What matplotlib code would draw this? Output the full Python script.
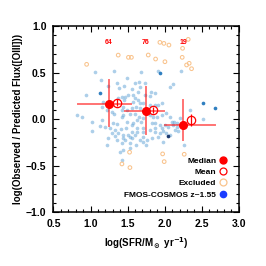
import matplotlib
matplotlib.use("Agg")
import matplotlib.pyplot as plt
from matplotlib.lines import Line2D
from matplotlib.ticker import MultipleLocator

plt.rcParams['font.family'] = ['Liberation Sans', 'DejaVu Sans']
plt.rcParams['font.weight'] = 'bold'

# ---- data ----
blue_x = [1.059, 1.315, 1.686, 1.908, 2.225, 1.140, 0.945, 1.239, 1.352, 1.389,
          1.450, 1.487, 1.598, 1.659, 1.733, 1.666, 1.554, 1.508, 1.643, 1.733,
          1.419, 1.464, 1.810, 1.868, 1.801, 2.070, 2.117, 1.575, 1.373, 1.457,
          1.575, 1.598, 1.643, 1.171, 1.150, 1.217, 1.487, 1.554, 1.666, 1.666,
          1.710, 1.801, 1.868, 1.912, 1.958, 1.433, 1.612, 1.292, 1.315, 1.419,
          1.441, 0.813, 0.888, 1.419, 1.531, 1.598, 1.654, 1.756, 1.801, 1.845,
          1.891, 1.958, 2.016, 1.710, 2.340, 2.521, 2.070, 2.124, 2.160, 2.205,
          1.015, 1.150, 1.127, 1.194, 1.019, 1.306, 1.356, 1.261, 1.329, 1.410,
          1.477, 1.487, 1.554, 1.621, 1.675, 1.575, 1.554, 1.621, 1.823, 1.868,
          1.868, 1.935, 2.003, 2.093, 2.115, 1.958, 2.047, 2.160, 1.710, 1.801,
          1.868, 1.935, 2.070, 1.239, 1.329, 1.284, 1.373, 1.441, 1.508, 1.531,
          1.598, 1.621, 1.710, 1.980, 2.016, 2.137, 2.182, 1.352, 1.464, 1.554,
          1.666, 1.710, 1.756, 1.823, 1.912, 1.433, 1.419, 1.531, 1.612, 1.710,
          1.221, 1.396, 1.441, 1.531, 1.419, 1.980, 2.259, 1.743]
blue_y = [0.510, 0.520, 0.512, 0.517, 0.519, 0.421, 0.260, 0.359, 0.385, 0.332,
          0.356, 0.439, 0.385, 0.402, 0.392, 0.349, 0.321, 0.260, 0.295, 0.260,
          0.241, 0.241, 0.295, 0.278, 0.249, 0.349, 0.374, 0.260, 0.224, 0.206,
          0.188, 0.224, 0.206, 0.188, 0.128, 0.099, 0.099, 0.122, 0.171, 0.117,
          0.171, 0.152, 0.152, 0.152, 0.171, 0.134, 0.134, 0.080, 0.053, 0.099,
          0.045, 0.050, 0.027, 0.027, 0.056, 0.056, 0.024, 0.063, 0.045, 0.020,
          0.027, 0.045, 0.063, 0.010, 0.099, 0.002, 0.020, -0.027, -0.044, 0.010,
          -0.030, -0.009, -0.078, -0.080, -0.130, -0.046, -0.057, -0.098, -0.116, -0.105,
          -0.098, -0.027, -0.062, -0.009, -0.027, -0.044, -0.134, -0.098, -0.044, -0.044,
          -0.098, -0.062, -0.062, -0.027, -0.062, -0.098, -0.080, -0.080, -0.098, -0.116,
          -0.134, -0.145, -0.170, -0.205, -0.180, -0.151, -0.151, -0.170, -0.170, -0.188,
          -0.170, -0.134, -0.134, -0.127, -0.151, -0.116, -0.123, -0.223, -0.223, -0.205,
          -0.223, -0.188, -0.223, -0.205, -0.188, -0.205, -0.259, -0.259, -0.277, -0.241,
          -0.280, -0.349, -0.330, -0.312, -0.438, -0.241, -0.277, -0.274]

blue_dark_x = [1.935, 1.133, 2.519, 2.677]
blue_dark_y = [0.501, 0.278, 0.179, 0.120]
navy_x = [2.047]
navy_y = [-0.180]

excl_x = [1.373, 1.511, 1.551, 0.947, 1.778, 1.935, 1.989, 2.057, 2.317, 2.241,
          1.877, 2.003, 2.236, 2.295, 2.330, 2.362, 1.526, 1.423, 1.531, 1.972,
          1.993, 2.263]
excl_y = [0.688, 0.664, 0.664, 0.589, 0.689, 0.825, 0.814, 0.796, 0.857, 0.761,
          0.646, 0.617, 0.664, 0.582, 0.600, 0.542, -0.355, -0.481, -0.520, -0.373,
          -0.456, -0.377]

med_x = [1.248, 1.747, 2.249]
med_y = [0.160, 0.088, -0.062]
med_xlo = [0.826, 1.464, 1.998]
med_xhi = [1.544, 1.993, 2.672]
med_ylo = [-0.073, -0.159, -0.223]
med_yhi = [0.421, 0.345, 0.206]

mean_x = [1.352, 1.846, 2.353]
mean_y = [0.177, 0.099, -0.009]
mean_yerr = [0.035, 0.035, 0.065]

counts = ["64", "76", "19"]
count_y = 0.82

xticks = [0.5, 1.0, 1.5, 2.0, 2.5, 3.0]
yticks = [-1.0, -0.5, 0.0, 0.5, 1.0]

# ---- plot ----
fig = plt.figure(figsize=(2.66, 2.66), dpi=100)
ax = fig.add_axes([0.201, 0.202, 0.697, 0.700])

red = '#ff0000'
orange = '#f9c38c'

ax.scatter(blue_x, blue_y, s=7, color='#6aa8d8', alpha=0.55, linewidths=0, zorder=2)
ax.scatter(blue_dark_x, blue_dark_y, s=7, color='#2f7fc0', linewidths=0, zorder=2)
ax.scatter(navy_x, navy_y, s=7, color='#1b3a70', linewidths=0, zorder=2)
ax.scatter(excl_x, excl_y, s=7, facecolors='none', edgecolors=orange, linewidths=0.75, zorder=2)

for i in range(len(med_x)):
    ax.plot([med_xlo[i], med_xhi[i]], [med_y[i], med_y[i]], color=red, alpha=0.55, lw=1.4, zorder=3)
    ax.plot([med_x[i], med_x[i]], [med_ylo[i], med_yhi[i]], color=red, alpha=0.55, lw=1.4, zorder=3)
ax.plot(med_x, med_y, 'o', color=red, ms=5.5, mec=red, zorder=4, linestyle='none')

ax.errorbar(mean_x, mean_y, yerr=mean_yerr, fmt='o', mfc='none', mec=red, ecolor=red,
            ms=6, mew=0.9, elinewidth=0.9, capsize=0, zorder=4)

for x, c in zip(med_x, counts):
    ax.text(x, count_y, c, color=red, fontsize=5, fontweight='bold', ha='center', va='center')

ax.set_xlim(0.5, 3.0)
ax.set_ylim(-1.0, 1.0)
ax.set_xticks(xticks)
ax.set_yticks(yticks)
ax.xaxis.set_minor_locator(MultipleLocator(0.1))
ax.yaxis.set_minor_locator(MultipleLocator(0.1))
ax.tick_params(which='both', direction='in', top=True, right=True, width=0.8, labelsize=7.5)
ax.tick_params(which='major', length=4, pad=5)
ax.tick_params(which='minor', length=2)
for lab in ax.get_xticklabels() + ax.get_yticklabels():
    lab.set_fontweight('bold')
for sp in ax.spines.values():
    sp.set_linewidth(1.1)

ax.set_xlabel(r'log(SFR/M$_\odot$ yr$^{-1}$)', fontsize=7, fontweight='bold', labelpad=4)
ax.set_ylabel('log(Observed / Predicted Flux([OIII]))', fontsize=7, fontweight='bold', labelpad=2)

handles = [
    Line2D([], [], marker='o', color=red, ls='none', ms=5),
    Line2D([], [], marker='o', mfc='none', mec=red, ls='none', ms=5, mew=0.9),
    Line2D([], [], marker='o', mfc='none', mec=orange, ls='none', ms=5, mew=0.9),
    Line2D([], [], marker='o', color='#1a3cff', ls='none', ms=4.5),
]
labels = ['Median', 'Mean', 'Excluded', 'FMOS-COSMOS z~1.55']
ax.legend(handles, labels, loc='lower right', frameon=False, markerfirst=False,
          prop={'size': 6, 'weight': 'bold'}, handletextpad=0.3, labelspacing=0.42,
          handlelength=1.0, borderaxespad=0.0, bbox_to_anchor=(0.955, 0.055))

fig.savefig('out.png', dpi=100)
